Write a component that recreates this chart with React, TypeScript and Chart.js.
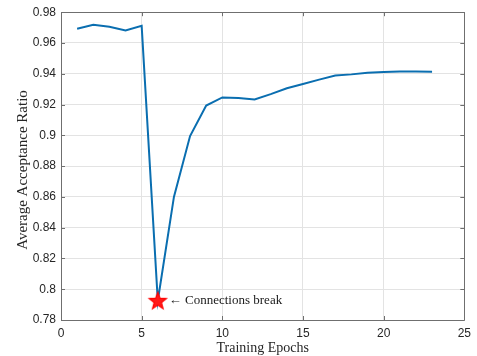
import React, { useEffect, useRef } from "react";
import { Chart, registerables } from "chart.js";

Chart.register(...registerables);

const epochs = [1, 2, 3, 4, 5, 6, 7, 8, 9, 10, 11, 12, 13, 14, 15, 16, 17, 18, 19, 20, 21, 22, 23];
const acceptance = [0.9692, 0.9718, 0.9705, 0.9682, 0.9711, 0.7925, 0.86, 0.8995, 0.9193, 0.9246, 0.9242, 0.9233, 0.9268, 0.9306, 0.9334, 0.9362, 0.9389, 0.9396, 0.9407, 0.9412, 0.9414, 0.9414, 0.9413];
const breakEpoch = [6];
const breakValue = [0.7925];
const annotationText = "\u2190 Connections break";
const xTitle = "Training Epochs";
const yTitle = "Average Acceptance Ratio";

const SERIF = "'Liberation Serif', 'Times New Roman', serif";
const SANS = "'Liberation Sans', Arial, sans-serif";

function makeStar(): HTMLCanvasElement {
  const c = document.createElement("canvas");
  c.width = 22;
  c.height = 22;
  const ctx = c.getContext("2d")!;
  const cx = 11, cy = 11.5, R = 9, r = 3.8;
  ctx.beginPath();
  for (let i = 0; i < 10; i++) {
    const rad = i % 2 === 0 ? R : r;
    const a = -Math.PI / 2 + (i * Math.PI) / 5;
    const px = cx + rad * Math.cos(a);
    const py = cy + rad * Math.sin(a);
    if (i === 0) ctx.moveTo(px, py);
    else ctx.lineTo(px, py);
  }
  ctx.closePath();
  ctx.fillStyle = "#ff1a1a";
  ctx.fill();
  ctx.strokeStyle = "#ff0000";
  ctx.lineWidth = 1.2;
  ctx.stroke();
  return c;
}

const framePlugin = {
  id: "matlabFrame",
  afterDraw(chart: any) {
    const { ctx, chartArea, scales } = chart;
    const { left, right, top, bottom } = chartArea;
    ctx.save();
    ctx.strokeStyle = "#6f6f6f";
    ctx.lineWidth = 1;
    ctx.beginPath();
    ctx.rect(Math.round(left) + 0.5, Math.round(top) + 0.5, Math.round(right - left), Math.round(bottom - top));
    ctx.stroke();
    const tl = 4;
    ctx.beginPath();
    scales.x.ticks.forEach((t: any) => {
      const px = Math.round(scales.x.getPixelForValue(t.value)) + 0.5;
      ctx.moveTo(px, bottom);
      ctx.lineTo(px, bottom - tl);
      ctx.moveTo(px, top);
      ctx.lineTo(px, top + tl);
    });
    scales.y.ticks.forEach((t: any) => {
      const py = Math.round(scales.y.getPixelForValue(t.value)) + 0.5;
      ctx.moveTo(left, py);
      ctx.lineTo(left + tl, py);
      ctx.moveTo(right, py);
      ctx.lineTo(right - tl, py);
    });
    ctx.stroke();

    // annotation
    const ax = scales.x.getPixelForValue(breakEpoch[0]) + 11;
    const ay = scales.y.getPixelForValue(breakValue[0]);
    ctx.fillStyle = "#1a1a1a";
    ctx.font = `13px ${SERIF}`;
    ctx.textAlign = "left";
    ctx.textBaseline = "middle";
    ctx.fillText(annotationText, ax, ay);

    // axis titles
    ctx.font = `14px ${SERIF}`;
    ctx.fillStyle = "#262626";
    ctx.textAlign = "center";
    ctx.textBaseline = "alphabetic";
    ctx.fillText(xTitle, (left + right) / 2, 352);
    ctx.save();
    ctx.font = `15px ${SERIF}`;
    ctx.translate(27, 170);
    ctx.rotate(-Math.PI / 2);
    ctx.fillText(yTitle, 0, 0);
    ctx.restore();
    ctx.restore();
  },
};

export default function App() {
  const ref = useRef<HTMLCanvasElement>(null);
  useEffect(() => {
    if (!ref.current) return;
    const star = makeStar();
    const chart = new Chart(ref.current, {
      type: "line",
      data: {
        datasets: [
          {
            label: "Acceptance",
            data: epochs.map((e, i) => ({ x: e, y: acceptance[i] })),
            borderColor: "#0a6eb0",
            borderWidth: 2,
            pointRadius: 0,
            fill: false,
            tension: 0,
            order: 2,
          },
          {
            label: "Break",
            data: breakEpoch.map((e, i) => ({ x: e, y: breakValue[i] })),
            showLine: false,
            pointStyle: star as any,
            pointRadius: 11,
            order: 1,
          },
        ],
      },
      options: {
        responsive: false,
        animation: false,
        layout: { padding: { top: 11, right: 6, left: 0, bottom: 0 } },
        plugins: { legend: { display: false }, tooltip: { enabled: false } },
        scales: {
          x: {
            type: "linear",
            min: 0,
            max: 25,
            ticks: {
              stepSize: 5,
              color: "#262626",
              font: { family: SANS, size: 12 },
              padding: 6,
              maxRotation: 0,
            },
            grid: { color: "#e3e3e3", drawTicks: false },
            border: { display: false },
            afterFit(scale: any) {
              scale.height = 36;
            },
          },
          y: {
            min: 0.78,
            max: 0.98,
            ticks: {
              stepSize: 0.02,
              color: "#262626",
              font: { family: SANS, size: 12 },
              padding: 5,
              callback: (v: any) => {
                const n = Math.round(Number(v) * 100) / 100;
                return String(n);
              },
            },
            grid: { color: "#e3e3e3", drawTicks: false },
            border: { display: false },
            afterFit(scale: any) {
              scale.width = 61;
            },
          },
        },
      },
      plugins: [framePlugin],
    });
    return () => chart.destroy();
  }, []);
  return (
    <div style={{ position: "fixed", left: 0, top: 0, width: 477, height: 356, background: "#fff" }}>
      <canvas ref={ref} width={477} height={356} style={{ display: "block" }} />
    </div>
  );
}
